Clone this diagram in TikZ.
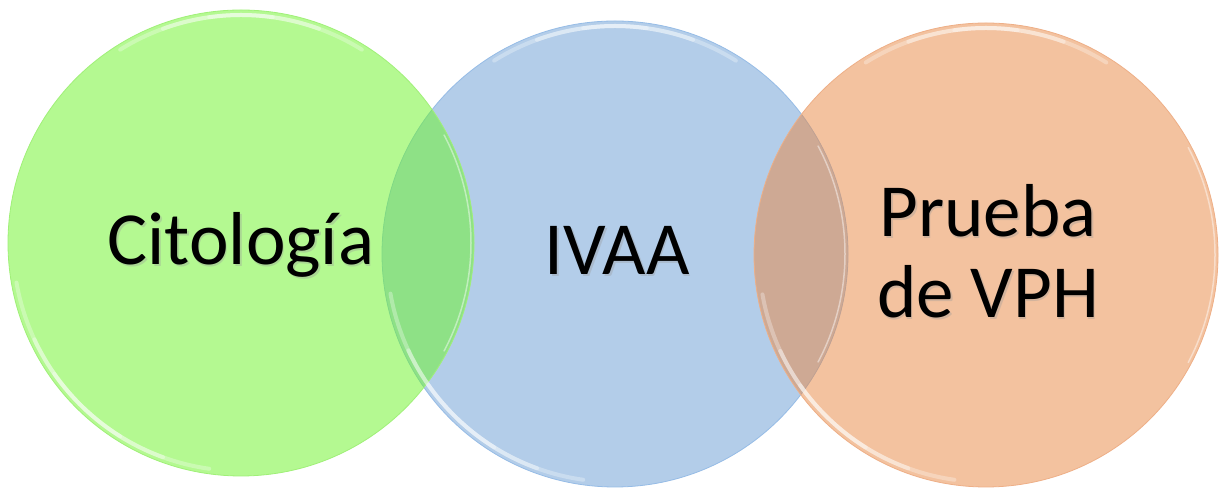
\documentclass[tikz,border=0pt]{standalone}
\usepackage{fontspec}
\setmainfont{Carlito}
\definecolor{gfill}{RGB}{107,245,37}
\definecolor{bfill}{RGB}{179,205,233}
\definecolor{ofill}{RGB}{233,135,65}
\definecolor{gedge}{RGB}{160,240,120}
\definecolor{bedge}{RGB}{150,188,230}
\definecolor{oedge}{RGB}{238,175,135}
\tikzset{
  disc/.style={circle, inner sep=0pt, minimum size=#1},
  hl/.style={draw=white, line width=4pt, line cap=round},
  lbl/.style={font=\fontsize{75}{81}\selectfont, text=black, inner sep=0pt, align=center},
  shd/.style={font=\fontsize{75}{81}\selectfont, text=black!40, opacity=0.35, inner sep=0pt, align=center}
}
\begin{document}
\begin{tikzpicture}[x=1pt,y=1pt]
\useasboundingbox (0,0) rectangle (1221,489);
\fill[white] (0,0) rectangle (1221,489);
% circles
\node[disc=466pt, fill=bfill, draw=bedge, line width=0.8pt] (b) at (615,235) {};
\node[disc=466pt, fill=gfill, fill opacity=0.5, draw=gedge, line width=0.8pt] (g) at (241,246) {};
\node[disc=464pt, fill=ofill, fill opacity=0.5, draw=oedge, line width=0.8pt] (o) at (986,234) {};
% glass highlights
\foreach \c/\r in {g/228, b/228, o/227}{
  \draw[hl, opacity=0.3] ([shift={(58:\r)}]\c.center) arc (58:122:\r);
  \draw[hl, opacity=0.35] ([shift={(70:\r)}]\c.center) arc (70:110:\r);
  \draw[hl, opacity=0.3] ([shift={(82:\r)}]\c.center) arc (82:98:\r);
  \draw[hl, opacity=0.3] ([shift={(190:\r)}]\c.center) arc (190:262:\r);
  \draw[hl, opacity=0.35] ([shift={(205:\r)}]\c.center) arc (205:250:\r);
  \draw[hl, opacity=0.3] ([shift={(215:\r)}]\c.center) arc (215:238:\r);
  \draw[hl, line width=1.5pt, opacity=0.45] ([shift={(-28:\r+2)}]\c.center) arc (-28:28:\r+2);
}
% text shadows
\node[shd, anchor=base] (tgs) at (242.5,222.5) {Citología};
\node[shd, anchor=base] (tbs) at (618.5,212.5) {IVAA};
\node[shd, anchor=base] (tos) at (989.5,169.5) {Prueba\\de VPH};
% texts
\node[lbl, anchor=base] (tg) at (241,224) {Citología};
\node[lbl, anchor=base] (tb) at (617,214) {IVAA};
\node[lbl, anchor=base] (to) at (988,171) {Prueba\\de VPH};
\end{tikzpicture}
\end{document}
